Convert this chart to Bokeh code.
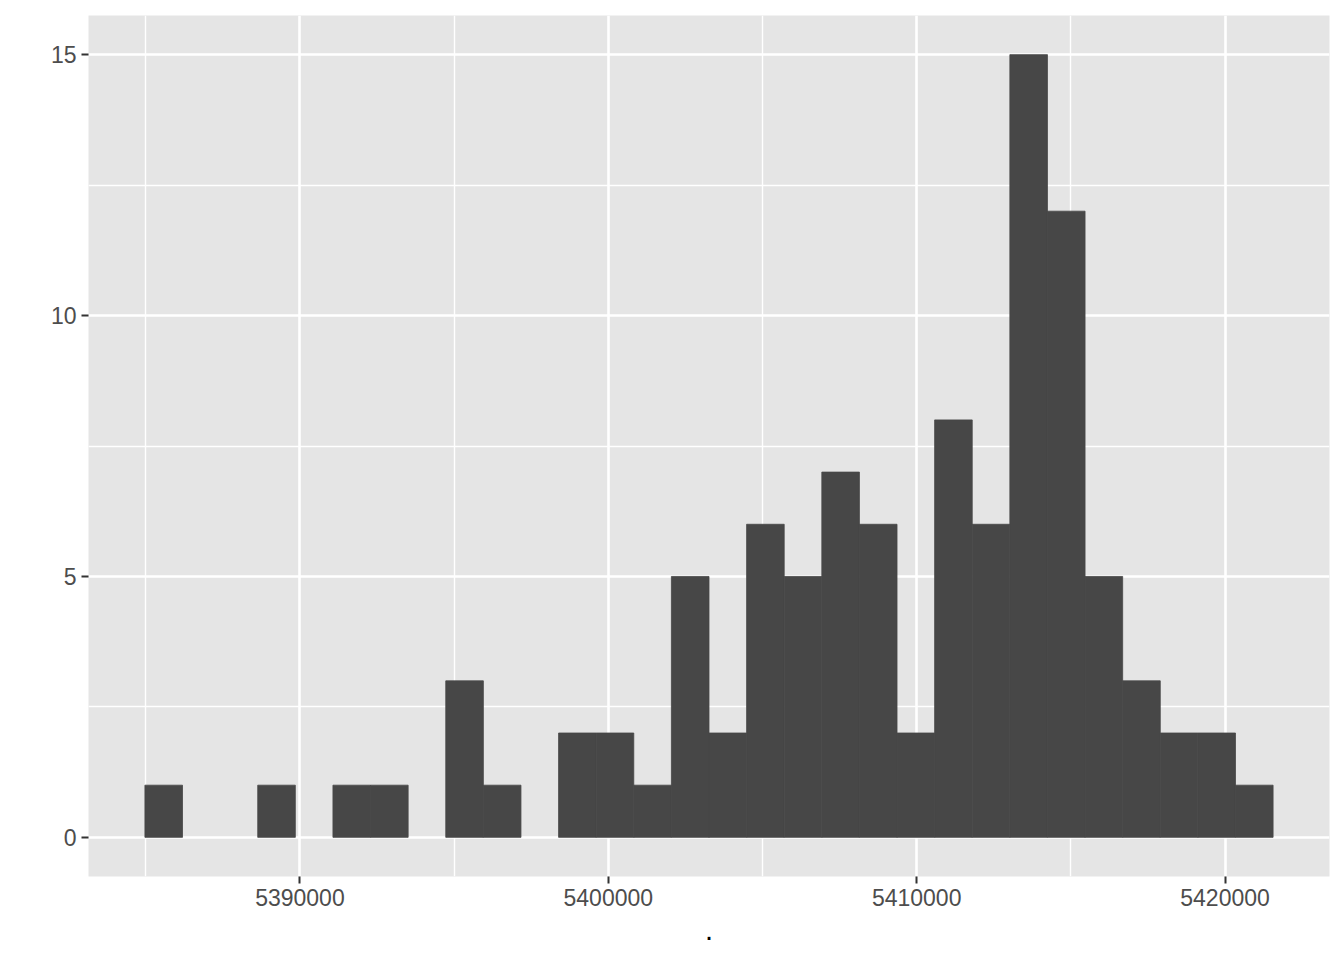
from bokeh.plotting import figure
from bokeh.models import Range1d, FixedTicker, NumeralTickFormatter
from bokeh.embed import file_html
from bokeh.resources import INLINE

# Histogram data (30 bins)
bin_start = 5384973
bin_width = 1219.5
counts = [1, 0, 0, 1, 0, 1, 1, 0, 3, 1, 0, 2, 2, 1, 5, 2, 6, 5, 7, 6, 2, 8, 6, 15, 12, 5, 3, 2, 2, 1]
x_ticks = [5390000, 5400000, 5410000, 5420000]
x_minor = [5385000, 5395000, 5405000, 5415000]
y_ticks = [0, 5, 10, 15]
y_minor = [2.5, 7.5, 12.5]
x_label = "."

lefts, rights, tops = [], [], []
for i, c in enumerate(counts):
    if c > 0:
        lefts.append(bin_start + i * bin_width)
        rights.append(bin_start + (i + 1) * bin_width)
        tops.append(c)
bottoms = [0] * len(tops)

xmin, xmax = bin_start, bin_start + bin_width * len(counts)
xpad = (xmax - xmin) * 0.05
ymax = max(counts)

p = figure(width=1336, height=952, output_backend="svg", toolbar_location=None,
           x_range=Range1d(xmin - xpad, xmax + xpad),
           y_range=Range1d(-ymax * 0.05, ymax * 1.05),
           min_border_left=88, min_border_right=7, min_border_top=15, min_border_bottom=76)

p.background_fill_color = "#E5E5E5"
p.border_fill_color = "white"
p.outline_line_color = None

p.quad(left=lefts, right=rights, bottom=bottoms, top=tops,
       fill_color="#474747", line_color="#474747", line_width=0.8)

p.xaxis.ticker = FixedTicker(ticks=x_ticks, minor_ticks=x_minor)
p.yaxis.ticker = FixedTicker(ticks=y_ticks, minor_ticks=y_minor)
p.xaxis.formatter = NumeralTickFormatter(format="0")

for ax in (p.xaxis, p.yaxis):
    ax.axis_line_color = None
    ax.major_tick_line_color = "#333333"
    ax.major_tick_line_width = 2
    ax.major_tick_out = 7
    ax.major_tick_in = 0
    ax.minor_tick_line_color = None
    ax.major_label_text_color = "#4D4D4D"
    ax.major_label_text_font = "Liberation Sans"
    ax.major_label_text_font_size = "23px"
    ax.major_label_standoff = 5

p.xaxis.axis_label = x_label
p.xaxis.axis_label_text_font = "Liberation Sans"
p.xaxis.axis_label_text_font_size = "29px"
p.xaxis.axis_label_text_font_style = "normal"
p.xaxis.axis_label_text_color = "black"
p.xaxis.axis_label_standoff = 11

for g in (p.xgrid, p.ygrid):
    g.grid_line_color = "white"
    g.grid_line_width = 2.6
    g.minor_grid_line_color = "white"
    g.minor_grid_line_width = 1.4

open("out.html", "w").write(file_html(p, INLINE))
